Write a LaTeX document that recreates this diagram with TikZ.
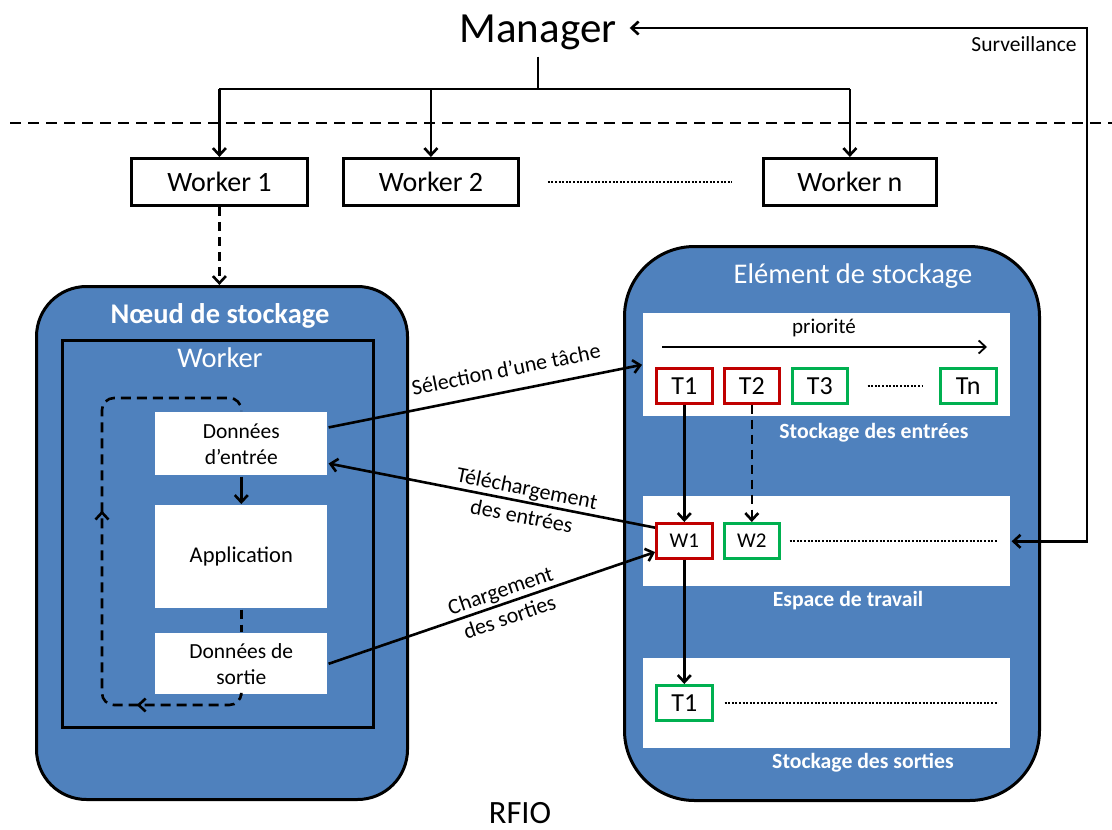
\documentclass[tikz,border=0pt]{standalone}
\usepackage{fontspec}
\setmainfont{Carlito}
\usetikzlibrary{arrows.meta,decorations.markings,calc}
\definecolor{accblue}{HTML}{4F81BD}
\definecolor{tred}{HTML}{C00000}
\definecolor{tgreen}{HTML}{00B050}
\newcommand\fsz[2]{\fontsize{#1}{#2}\selectfont}
\begin{document}
\begin{tikzpicture}[x=1pt,y=-1pt,line width=2.6pt,
  arr/.style={-{Straight Barb[length=7pt,width=13pt]}},
  dsh/.style={dash pattern=on 9pt off 6pt},
  dots/.style={line width=2pt,dash pattern=on 2pt off 1.6pt},
  wbox/.style={draw,line width=2.8pt,fill=white,inner sep=0pt,anchor=north west,minimum height=47,font=\fsz{28}{32}},
  big/.style={draw,line width=3pt,fill=accblue,anchor=north west,inner sep=0pt},
  panel/.style={fill=white,anchor=north west,inner sep=0pt},
  iwb/.style={fill=white,inner sep=0pt,anchor=north west,minimum width=172,align=center,font=\fsz{21.5}{26}},
  tbox/.style={draw,line width=2.6pt,fill=white,inner sep=0pt,anchor=north west,minimum height=35,font=\fsz{26}{30}},
  redbox/.style={tbox,draw=tred},
  greenbox/.style={tbox,draw=tgreen},
  ttl/.style={text=white,anchor=base,inner sep=0pt},
  lbl/.style={sloped,align=center,font=\fsz{22}{28}}
]
\useasboundingbox[fill=white] (0,0) rectangle (1112,830);

% Manager and workers
\node[font=\fsz{43}{50},anchor=base,inner xsep=12pt,inner ysep=6pt] (manager) at (538,42) {Manager};
\node[wbox,minimum width=176] (w1) at (130,157) {Worker 1};
\node[wbox,minimum width=175] (w2) at (342,157) {Worker 2};
\node[wbox,minimum width=173] (wn) at (762,157) {Worker n};
\draw[dots] ($(w2.east)+(28,0)$) -- ($(wn.west)+(-30,0)$);

\coordinate (bus) at (538,89);
\draw (manager.south) -- (bus);
\draw (w1.north |- bus) -- (wn.north |- bus);
\draw[arr] (w1.north |- bus) -- (w1.north);
\draw[arr] (w2.north |- bus) -- (w2.north);
\draw[arr] (wn.north |- bus) -- (wn.north);

\draw[line width=2.6pt,dash pattern=on 11pt off 7pt] (10,123) -- (1112,123);

% big boxes
\node[big,minimum width=371,minimum height=513,rounded corners=50pt] (noeud) at (35,285) {};
\node[big,minimum width=415,minimum height=554,rounded corners=70pt] (elem) at (623,245) {};
\draw[arr,dsh] (w1.south) -- (w1.south |- noeud.north);

% left: storage node
\node[ttl,font=\bfseries\fsz{28.5}{32}] (tnoeud) at (220,323) {Nœud de stockage};
\node[draw,line width=3pt,inner sep=0pt,anchor=north west,minimum width=311,minimum height=387] (wk) at (61,339) {};
\node[ttl,font=\fsz{28.5}{32}] (twk) at (220,367) {Worker};
\node[iwb,minimum height=63] (entree) at (154,411) {Données\\d’entrée};
\node[iwb,minimum height=103,font=\fsz{22.5}{26}] (app) at (154,504) {Application};
\node[iwb,minimum height=61] (sortie) at (154,632) {Données de\\sortie};
\draw[arr] (entree.south) -- (app.north);
\draw[dsh] (app.south) -- (sortie.north);
\coordinate (lbl) at (102,705);
\coordinate (ltl) at (102,398);
\draw[dash pattern=on 10pt off 6pt,rounded corners=12pt,
  postaction={decorate},
  decoration={markings,
    mark=at position 114pt with {\arrow{Straight Barb[length=7pt,width=13pt]}},
    mark=at position 338pt with {\arrow{Straight Barb[length=7pt,width=13pt]}}}]
  (sortie.south) |- (lbl) -- (ltl) -| (entree.north);

% right: storage element
\node[ttl,font=\fsz{28.5}{32}] (telem) at (853,283) {Elément de stockage};
\node[panel,minimum width=367,minimum height=103] (p1) at (642,312) {};
\node[panel,minimum width=367,minimum height=90] (p2) at (642,495) {};
\node[panel,minimum width=367,minimum height=90] (p3) at (642,657) {};
\node[ttl,font=\bfseries\fsz{21.7}{26}] (lp1) at (874,438) {Stockage des entrées};
\node[ttl,font=\bfseries\fsz{21.7}{26}] (lp2) at (848,606) {Espace de travail};
\node[ttl,font=\bfseries\fsz{21.7}{26}] (lp3) at (863,768) {Stockage des sorties};

\node[font=\fsz{21}{24},anchor=base,inner sep=0pt] (prio) at (824,333) {priorité};
\coordinate (pa) at (662,347);
\coordinate (pb) at (987,347);
\draw[arr,line width=1.8pt] (pa) -- (pb);

\node[redbox,minimum width=56] (t1) at (655,367) {T1};
\node[redbox,minimum width=55] (t2) at (723,367) {T2};
\node[greenbox,minimum width=55] (t3) at (791,367) {T3};
\node[greenbox,minimum width=56] (tn) at (939,367) {Tn};
\draw[dots] ($(t3.east)+(19,0)$) -- ($(tn.west)+(-17,0)$);

\node[redbox,minimum width=56,font=\fsz{21}{24}] (wa) at (655,522) {W1};
\node[greenbox,minimum width=55,font=\fsz{21}{24}] (wb) at (723,522) {W2};
\draw[dots] ($(wb.east)+(9,0)$) -- ($(wb.east -| p2.east)+(-14,0)$);

\node[greenbox,minimum width=56] (to) at (655,684) {T1};
\draw[dots] ($(to.east)+(11,0)$) -- ($(to.east -| p3.east)+(-14,0)$);

\draw[arr] (t1.south) -- (wa.north);
\draw[arr,dsh] (t2.south) -- (wb.north);
\draw[arr] (wa.south) -- (to.north);

% connectors between node and element
\draw[arr] ($(entree.north east)!0.25!(entree.south east)$)
  -- node[lbl,pos=0.58,above=10pt] {Sélection d’une tâche} (p1.west);
\draw[arr] ($(wa.north west)!0.15!(wa.south west)$)
  -- node[lbl,pos=0.40] {Téléchargement\\des entrées} ($(entree.north east)!0.8!(entree.south east)$);
\draw[arr] ($(sortie.north east)!0.5!(sortie.south east)$)
  -- node[lbl,pos=0.54] {Chargement\\des sorties} ($(wa.north west)!0.8!(wa.south west)$);

% surveillance
\coordinate (svt) at (1087,28);
\draw[{Straight Barb[length=7pt,width=13pt]}-{Straight Barb[length=7pt,width=13pt]}]
  (manager.east |- svt) -- (svt) -- (svt |- p2.east) -- (p2.east);
\node[font=\fsz{21.5}{24},anchor=base east,inner sep=0pt] (surv) at (1078,51) {Surveillance};

\node[font=\fsz{32.5}{36},anchor=base,inner sep=0pt] (rfio) at (520,823) {RFIO};
\end{tikzpicture}
\end{document}
